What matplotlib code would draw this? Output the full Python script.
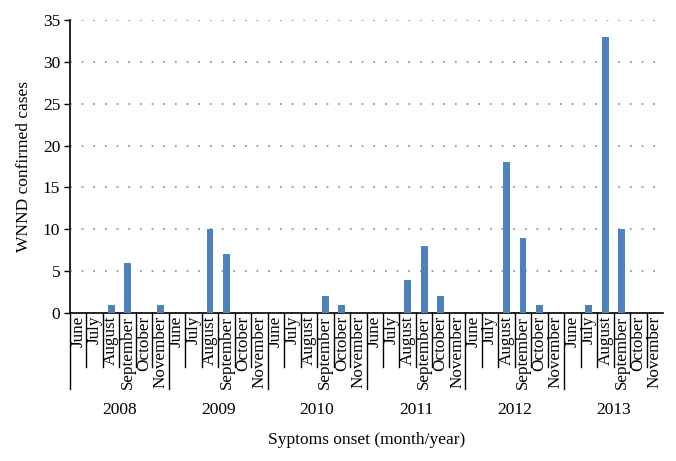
import numpy as np
import matplotlib.pyplot as plt

# données : cas confirmés WNND par mois d'apparition des symptômes
years = ["2008", "2009", "2010", "2011", "2012", "2013"]
months = ["June", "July", "August", "September", "October", "November"]
cases_2008 = [0, 0, 1, 6, 0, 1]
cases_2009 = [0, 0, 10, 7, 0, 0]
cases_2010 = [0, 0, 0, 2, 1, 0]
cases_2011 = [0, 0, 4, 8, 2, 0]
cases_2012 = [0, 0, 18, 9, 1, 0]
cases_2013 = [0, 1, 33, 10, 0, 0]
y_ticks = [0, 5, 10, 15, 20, 25, 30, 35]

values = np.array(cases_2008 + cases_2009 + cases_2010 +
                  cases_2011 + cases_2012 + cases_2013)
n = len(values)
pos = np.arange(n) + 0.5

plt.rcParams['font.family'] = ['Liberation Serif', 'DejaVu Serif']

fig = plt.figure(figsize=(6.76, 4.61), dpi=100)
ax = fig.add_axes([70 / 676, 148 / 461, 593 / 676, 293 / 461])

ax.bar(pos, values, width=0.42, color='#4F81BD', zorder=3)

ax.set_xlim(0, n)
ax.set_ylim(0, 35)
ax.set_yticks(y_ticks)
ax.tick_params(axis='y', direction='out', length=4, width=1, labelsize=12.5,
               pad=3)
ax.set_xticks([])

# grille pointillée
ax.grid(axis='y', color='#888888', linestyle=(0, (1, 6)), linewidth=1.2,
        zorder=0)
ax.set_axisbelow(True)

for s in ['top', 'right']:
    ax.spines[s].set_visible(False)
ax.spines['left'].set_linewidth(1.2)
ax.spines['bottom'].set_linewidth(1.2)

# axe des catégories à deux niveaux
tr = ax.get_xaxis_transform()
for i in range(n):
    bottom = -0.26 if i % 6 == 0 else -0.185
    ax.plot([i, i], [0, bottom], transform=tr, color='black', lw=1,
            clip_on=False)
for i, p in enumerate(pos):
    ax.text(p, -0.01, months[i % 6], transform=tr, rotation=90,
            ha='center', va='top', fontsize=12.3)
for k, yr in enumerate(years):
    ax.text(6 * k + 3, -0.33, yr, transform=tr, ha='center', va='center',
            fontsize=12.5)

ax.set_ylabel('WNND confirmed cases', fontsize=12.5, labelpad=8)
ax.text(0.5, -0.435, 'Syptoms onset (month/year)', transform=ax.transAxes,
        ha='center', va='center', fontsize=12.5)

fig.savefig('out.png', dpi=100)
